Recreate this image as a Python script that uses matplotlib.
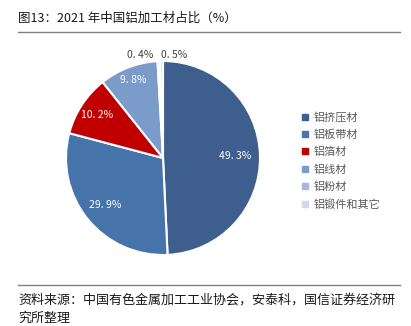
import numpy as np
import matplotlib.pyplot as plt
from matplotlib.lines import Line2D

plt.rcParams['font.family'] = ['Noto Sans CJK SC', 'DejaVu Sans']

categories = ['铝挤压材', '铝板带材', '铝箔材', '铝线材', '铝粉材', '铝锻件和其它']
shares = [49.3, 29.9, 10.2, 9.8, 0.4, 0.5]
colors = ['#3e5f8e', '#4673aa', '#c00000', '#7b9bcb', '#a5b9dc', '#cfd8ea']

fig = plt.figure(figsize=(4.11, 3.26), dpi=100)

# title and rules
fig.text(18 / 411, 1 - 18 / 326, '图13：2021 年中国铝加工材占比（%）', fontsize=9,
         color='#1a1a1a', va='center', ha='left')
fig.add_artist(Line2D([18 / 411, 400 / 411], [1 - 32 / 326] * 2, color='#808080', lw=1.0))
fig.add_artist(Line2D([18 / 411, 400 / 411], [1 - 285 / 326] * 2, color='#808080', lw=1.0))
fig.text(18 / 411, 1 - 300 / 326, '资料来源：中国有色金属加工工业协会，安泰科，国信证券经济研',
         fontsize=9.4, color='#1a1a1a', va='center', ha='left')
fig.text(18 / 411, 1 - 318 / 326, '究所整理', fontsize=9.4, color='#1a1a1a', va='center', ha='left')

ax = fig.add_axes([66 / 411, 71 / 326, 194 / 411, 194 / 326])
wedges, _ = ax.pie(shares, colors=colors, startangle=90, counterclock=False,
                   wedgeprops=dict(edgecolor='white', linewidth=1.5))
ax.set_xlim(-1, 1)
ax.set_ylim(-1, 1)
ax.set_aspect('equal')

label_r = [0.74, 0.77, 0.81, 0.86]
for w, v, r in zip(wedges[:4], shares[:4], label_r):
    ang = np.deg2rad((w.theta1 + w.theta2) / 2)
    ax.text(r * np.cos(ang), r * np.sin(ang), f'{v:.1f}%'.replace('.', '. '),
            ha='center', va='center', fontsize=7.5, color='white')

# the two thin slices get their labels above the pie
for v, x in zip(shares[4:], [-0.24, 0.11]):
    ax.text(x, 1.06, f'{v:.1f}%'.replace('.', '. '), ha='center', va='center',
            fontsize=7.5, color='#404040')

handles = [plt.Line2D([], [], marker='s', ls='', color=c, markersize=4) for c in colors]
fig.legend(handles, categories, loc='upper left', bbox_to_anchor=(291 / 411, 1 - 103 / 326),
           frameon=False, fontsize=8, labelcolor='#595959', handletextpad=0.25,
           handlelength=1.0, labelspacing=0.62, borderpad=0.3)

fig.savefig('out.png', dpi=100)
